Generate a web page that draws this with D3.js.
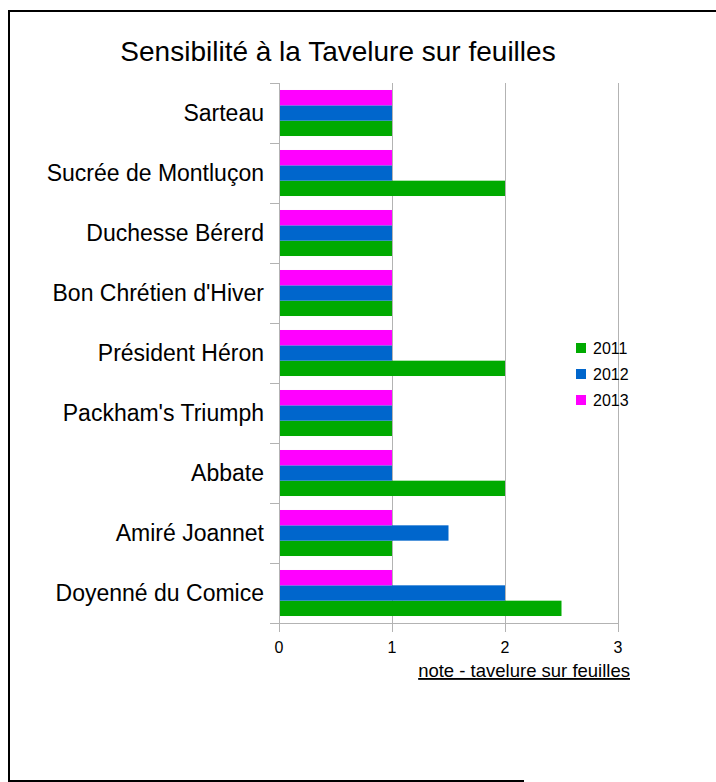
<!DOCTYPE html>
<html><head><meta charset="utf-8">
<script src="https://cdn.jsdelivr.net/npm/d3@7"></script>
<style>body{margin:0;background:#fff}svg{display:block}text{font-family:"Liberation Sans",Arial,sans-serif;fill:#000}</style>
</head><body>
<script>
const categories = ["Sarteau","Sucrée de Montluçon","Duchesse Bérerd","Bon Chrétien d'Hiver","Président Héron","Packham's Triumph","Abbate","Amiré Joannet","Doyenné du Comice"];
const years = ["2011","2012","2013"];
const values2011 = [1,2,1,1,2,1,2,1,2.5];
const values2012 = [1,1,1,1,1,1,1,1.5,2];
const values2013 = [1,1,1,1,1,1,1,1,1];
const xTicks = [0,1,2,3];
const colors = ["#00aa00","#0066cc","#ff00ff"];
const title = "Sensibilité à la Tavelure sur feuilles";
const xTitle = "note - tavelure sur feuilles";

const W=716,H=782;
const svg=d3.select("body").append("svg").attr("width",W).attr("height",H);
// frame
const fr=svg.append("g").attr("stroke","#000").attr("stroke-width",2);
fr.append("line").attr("x1",9).attr("y1",11).attr("x2",716).attr("y2",11);
fr.append("line").attr("x1",9).attr("y1",10).attr("x2",9).attr("y2",782);
fr.append("line").attr("x1",8).attr("y1",781).attr("x2",524).attr("y2",781);

const L=279,R=618,T=83,B=623;
const x=d3.scaleLinear().domain([0,3]).range([L,R]);
const y=d3.scaleBand().domain(categories).range([T,B]).paddingInner(0.233).paddingOuter(0.1165);
const sub=d3.scaleBand().domain(["2013","2012","2011"]).range([0,y.bandwidth()]);
const grid="#b3b3b3";

// gridlines
svg.append("g").selectAll("line").data(xTicks.slice(1)).join("line")
 .attr("x1",d=>x(d)+0.5).attr("x2",d=>x(d)+0.5).attr("y1",T).attr("y2",B)
 .attr("stroke",grid).attr("stroke-width",1);

// bars
const series=[values2011,values2012,values2013];
const gb=svg.append("g");
years.forEach((yr,i)=>{
  gb.selectAll(null).data(categories).join("rect")
   .attr("x",L).attr("y",(c)=>y(c)+sub(yr))
   .attr("width",(c,j)=>x(series[i][j])-L).attr("height",sub.bandwidth())
   .attr("fill",colors[i]);
});

// axes
const bandStep = (B-T)/categories.length;
const yb=d3.range(categories.length+1).map(k=>T+k*bandStep);
const ya=svg.append("g").attr("stroke",grid).attr("stroke-width",1);
ya.append("line").attr("x1",L+0.5).attr("x2",L+0.5).attr("y1",T).attr("y2",B+9);
ya.selectAll(null).data(yb).join("line").attr("x1",L-9).attr("x2",L).attr("y1",d=>d+0.5).attr("y2",d=>d+0.5);
ya.append("line").attr("x1",L-9).attr("x2",R+1).attr("y1",B+0.5).attr("y2",B+0.5);
ya.selectAll(null).data(xTicks).join("line").attr("x1",d=>x(d)+0.5).attr("x2",d=>x(d)+0.5).attr("y1",B).attr("y2",B+9);

svg.append("g").selectAll("text").data(categories).join("text")
 .attr("x",264).attr("y",(d,i)=>T+i*bandStep+bandStep/2)
 .attr("dy","0.35em").attr("text-anchor","end").attr("font-size",23).text(d=>d);

svg.append("g").selectAll("text").data(xTicks).join("text")
 .attr("x",d=>x(d)).attr("y",653).attr("text-anchor","middle").attr("font-size",16).text(d=>d);

svg.append("text").attr("x",630).attr("y",677).attr("text-anchor","end").attr("font-size",18.5)
 .attr("text-decoration","underline").text(xTitle);

svg.append("text").attr("x",338).attr("y",61).attr("text-anchor","middle").attr("font-size",28).text(title);

// legend
const lg=svg.append("g");
years.forEach((yr,i)=>{
  const cy=348+i*26;
  lg.append("rect").attr("x",576).attr("y",cy-5).attr("width",10).attr("height",10).attr("fill",colors[i]);
  lg.append("text").attr("x",593).attr("y",cy).attr("dy","0.35em").attr("font-size",16).text(yr);
});
</script>
</body></html>
